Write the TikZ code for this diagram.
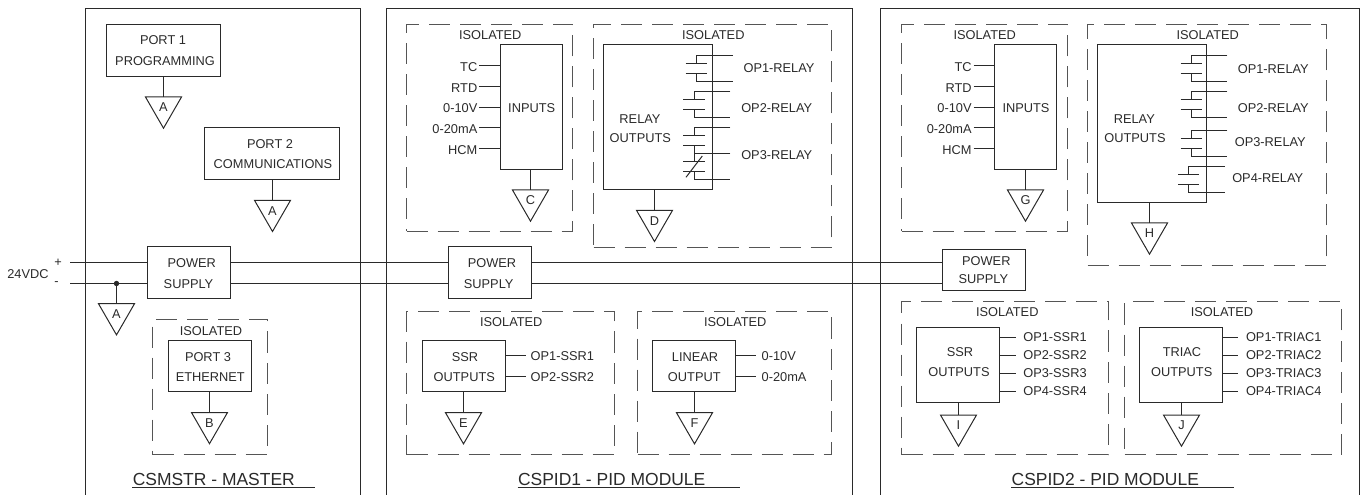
\documentclass[tikz,border=0pt]{standalone}
\usepackage{fontspec}
\setmainfont{Liberation Sans}
\usetikzlibrary{shapes.geometric}
\definecolor{ink}{HTML}{2A2A2A}
\tikzset{
  wire/.style={draw=ink,line width=0.75pt},
  boxst/.style={draw=ink,line width=0.8pt,inner sep=0pt,outer sep=0pt},
  dashst/.style={draw=ink!80,line width=0.8pt,inner sep=0pt,outer sep=0pt,dash pattern=on 15.75pt off 7.5pt},
  lbl/.style={inner sep=0pt,outer sep=0pt,text=ink,font=\fontsize{9.6pt}{11pt}\selectfont,anchor=center},
  lbll/.style={lbl,anchor=west},
  lblr/.style={lbl,anchor=east},
  ttl/.style={lbl,font=\fontsize{13.1pt}{15pt}\selectfont},
  gndst/.style={draw=ink,line width=0.75pt,regular polygon,regular polygon sides=3,shape border rotate=180,minimum size=31.2pt,inner sep=0pt,outer sep=0pt,text=ink,font=\fontsize{9.6pt}{11pt}\selectfont}
}
\newcommand{\mybox}[6][boxst]{%
  \pgfmathsetmacro{\xa}{floor(#3)+0.5}\pgfmathsetmacro{\ya}{floor(#4)+0.5}%
  \pgfmathsetmacro{\xb}{floor(#5)+0.5}\pgfmathsetmacro{\yb}{floor(#6)+0.5}%
  \pgfmathsetmacro{\bw}{(\xb-\xa)*0.75}\pgfmathsetmacro{\bh}{(\yb-\ya)*0.75}%
  \node[#1,minimum width=\bw pt,minimum height=\bh pt] (#2) at ({(\xa+\xb)/2},{(\ya+\yb)/2}) {};}
% name, source box, x, top y, letter
\newcommand{\gnd}[5]{%
  \node[gndst] (#1) at ({floor(#3)+0.5},{#4+10.4}) {#5};
  \draw[wire] (#2.south -| #1.center) -- (#1.center |- #1.north);}
% contact: prefix, top y, vertical x, wire end x, plate left, plate right
\newcommand{\contact}[6]{%
  \pgfmathsetmacro{\cy}{floor(#2)+0.5}\pgfmathsetmacro{\cx}{floor(#3)+0.5}%
  \coordinate (#1a) at (\cx,\cy);
  \coordinate (#1b) at (#5,\cy+8);
  \coordinate (#1c) at (#6,\cy+8);
  \coordinate (#1d) at (#5,\cy+18);
  \coordinate (#1e) at (#6,\cy+18);
  \coordinate (#1f) at (#4,\cy+26);
  \coordinate (#1g) at (#4,\cy);
  \draw[wire] (#1g) -- (#1a) -- (#1a |- #1b);
  \draw[wire] (#1b) -- (#1c);
  \draw[wire] (#1d) -- (#1e);
  \draw[wire] (#1a |- #1d) -- (#1a |- #1f) -- (#1f);}
\begin{document}
\begin{tikzpicture}[x=0.75pt,y=-0.75pt]
\useasboundingbox (0,0) rectangle (1360,495);
% panels
\coordinate (m1) at (85.5,495); \coordinate (m2) at (85.5,8.5); \coordinate (m3) at (360.5,8.5); \coordinate (m4) at (360.5,495);
\draw[boxst] (m1) -- (m2) -- (m3) -- (m4);
\coordinate (a1) at (386.5,495); \coordinate (a2) at (386.5,8.5); \coordinate (a3) at (852.5,8.5); \coordinate (a4) at (852.5,495);
\draw[boxst] (a1) -- (a2) -- (a3) -- (a4);
\coordinate (b1) at (880.5,495); \coordinate (b2) at (880.5,8.5); \coordinate (b3) at (1359.5,8.5); \coordinate (b4) at (1359.5,495);
\draw[boxst] (b1) -- (b2) -- (b3) -- (b4);

% ===== master
\mybox{port1}{106}{24}{220}{76}
\node[lbl] (port1a) at (163,40) {PORT 1};
\node[lbl] (port1b) at (165,61) {PROGRAMMING};
\gnd{gA1}{port1}{163}{97}{A}
\mybox{port2}{204.5}{127.5}{339.5}{179.5}
\node[lbl] (port2a) at (270,144) {PORT 2};
\node[lbl] (port2b) at (273,164.5) {COMMUNICATIONS};
\gnd{gA2}{port2}{272}{200.3}{A}

\mybox{ps1}{147.5}{246.7}{230.5}{298.3}
\node[lbl] (ps1a) at (191.7,263.5) {POWER};
\node[lbl] (ps1b) at (188.5,283.7) {SUPPLY};
\mybox{ps2}{448}{246.7}{531}{298.3}
\node[lbl] (ps2a) at (492,263.5) {POWER};
\node[lbl] (ps2b) at (488.7,283.7) {SUPPLY};
\mybox{ps3}{942.3}{249.3}{1025.7}{290.7}
\node[lbl] (ps3a) at (986.3,260.7) {POWER};
\node[lbl] (ps3b) at (983.3,278.7) {SUPPLY};

\coordinate (vp) at (70,262.5);
\coordinate (vm) at (70,283.5);
\draw[wire] (vp) -- (vp -| ps1.west);
\draw[wire] (vm) -- (vm -| ps1.west);
\draw[wire] (vp -| ps1.east) -- (vp -| ps2.west);
\draw[wire] (vm -| ps1.east) -- (vm -| ps2.west);
\draw[wire] (vp -| ps2.east) -- (vp -| ps3.west);
\draw[wire] (vm -| ps2.east) -- (vm -| ps3.west);
\node[lbl] (v24) at (28,273.7) {24VDC};
\node[lbl] (vplus) at (58,263) {+};
\node[lbl] (vminus) at (56.5,283.2) {-};
\coordinate (jn) at (116.5,283.5);
\fill[ink] (jn) circle (2.7);
\node[gndst] (gA3) at (116.5,314.1) {A};
\draw[wire] (jn) -- (gA3.center |- gA3.north);

\mybox[dashst]{iso1}{152.5}{319.7}{267}{454.3}
\node[lbl] (iso1t) at (211,330.7) {ISOLATED};
\mybox{port3}{168}{340.3}{251.5}{391.7}
\node[lbl] (port3a) at (208,356.7) {PORT 3};
\node[lbl] (port3b) at (210.3,377.3) {ETHERNET};
\gnd{gB}{port3}{209.7}{412.5}{B}
\node[ttl] (t1) at (213.8,479) {CSMSTR - MASTER};
\coordinate (u1a) at (132,487.5); \coordinate (u1b) at (315,487.5);
\draw[wire] (u1a) -- (u1b);

% ===== CSPID1
\mybox[dashst]{iso2}{406.7}{24}{572.3}{231}
\node[lbl] (iso2t) at (490.3,35.3) {ISOLATED};
\mybox{in1}{500}{44.7}{562}{169.3}
\node[lbl] (in1t) at (531.7,107.7) {INPUTS};
\foreach \n/\t/\yy/\ty in {a/TC/65.5/66.7,b/RTD/86.5/87.7,c/0-10V/107.5/107.7,d/0-20mA/127.5/129,e/HCM/148.5/149.7}{
  \node[lblr] (in1\n) at (477.3,\ty) {\t};
  \coordinate (in1p\n) at (479.3,\yy);
  \draw[wire] (in1p\n) -- (in1p\n -| in1.west);
}
\gnd{gC}{in1}{530.7}{190}{C}

\mybox[dashst]{iso3}{593}{24}{831.3}{247}
\node[lbl] (iso3t) at (713.3,35.3) {ISOLATED};
\mybox{rel1}{603.3}{44.7}{712}{189.7}
\node[lbl] (rel1a) at (640,118.7) {RELAY};
\node[lbl] (rel1b) at (640.3,138.3) {OUTPUTS};
\contact{ra}{55}{696.7}{733}{685.7}{707}
\contact{rb}{91.3}{694}{730.3}{683.3}{704.7}
\contact{rc}{127.5}{694}{730.3}{683.3}{704.7}
\contact{rd}{153.5}{694}{730.3}{683.3}{704.7}
\coordinate (sl1) at (686,177.3); \coordinate (sl2) at (702.3,156);
\draw[wire] (sl1) -- (sl2);
\node[lbl] (op1r) at (779,68.5) {OP1-RELAY};
\node[lbl] (op2r) at (776.7,107.7) {OP2-RELAY};
\node[lbl] (op3r) at (776.7,154.7) {OP3-RELAY};
\gnd{gD}{rel1}{654.7}{210.3}{D}

\mybox[dashst]{iso4}{406.7}{311.7}{614}{454.3}
\node[lbl] (iso4t) at (511.3,322.3) {ISOLATED};
\mybox{ssr1}{422}{340.3}{505}{391.7}
\node[lbl] (ssr1a) at (465,356.7) {SSR};
\node[lbl] (ssr1b) at (464.3,377.3) {OUTPUTS};
\foreach \n/\t/\yy in {a/OP1-SSR1/355.5,b/OP2-SSR2/376.5}{
  \coordinate (ssr1p\n) at (526,\yy);
  \draw[wire] (ssr1.east |- ssr1p\n) -- (ssr1p\n);
  \node[lbll] (ssr1l\n) at (530.7,\yy+1) {\t};
}
\gnd{gE}{ssr1}{463.7}{412.7}{E}

\mybox[dashst]{iso5}{637}{311.7}{831.3}{454.3}
\node[lbl] (iso5t) at (735.3,322.3) {ISOLATED};
\mybox{lin1}{652.3}{340.3}{735.3}{391.7}
\node[lbl] (lin1a) at (695,356.7) {LINEAR};
\node[lbl] (lin1b) at (694.3,377.3) {OUTPUT};
\foreach \n/\t/\yy in {a/0-10V/355.5,b/0-20mA/376.5}{
  \coordinate (lin1p\n) at (756.3,\yy);
  \draw[wire] (lin1.east |- lin1p\n) -- (lin1p\n);
  \node[lbll] (lin1l\n) at (761.7,\yy+1) {\t};
}
\gnd{gF}{lin1}{694}{412.7}{F}
\node[ttl] (t2) at (611.7,479) {CSPID1 - PID MODULE};
\coordinate (u2a) at (517.7,487.5); \coordinate (u2b) at (740,487.5);
\draw[wire] (u2a) -- (u2b);

% ===== CSPID2
\mybox[dashst]{iso6}{901}{24}{1067.3}{231}
\node[lbl] (iso6t) at (984.7,35.3) {ISOLATED};
\mybox{in2}{994.3}{44.7}{1056.3}{169.3}
\node[lbl] (in2t) at (1026,107.7) {INPUTS};
\foreach \n/\t/\yy/\ty in {a/TC/65.5/66.7,b/RTD/86.5/87.7,c/0-10V/107.5/107.7,d/0-20mA/127.5/129,e/HCM/148.5/149.7}{
  \node[lblr] (in2\n) at (971.6,\ty) {\t};
  \coordinate (in2p\n) at (973.6,\yy);
  \draw[wire] (in2p\n) -- (in2p\n -| in2.west);
}
\gnd{gG}{in2}{1025}{190}{G}

\mybox[dashst]{iso7}{1087.7}{24}{1326.3}{265.3}
\node[lbl] (iso7t) at (1207.7,35.3) {ISOLATED};
\mybox{rel2}{1097.7}{44.7}{1206.7}{202.3}
\node[lbl] (rel2a) at (1134.3,118.7) {RELAY};
\node[lbl] (rel2b) at (1135,138.3) {OUTPUTS};
\contact{sa}{55}{1191}{1227.3}{1180.7}{1202}
\contact{sb}{91.3}{1191}{1227.3}{1180.7}{1202}
\contact{sc}{130.3}{1191}{1227.3}{1180.7}{1202}
\contact{sd}{166.7}{1188.7}{1225}{1178}{1199.3}
\node[lbl] (op1s) at (1273.3,68.7) {OP1-RELAY};
\node[lbl] (op2s) at (1273.3,107.7) {OP2-RELAY};
\node[lbl] (op3s) at (1270.3,141.7) {OP3-RELAY};
\node[lbl] (op4s) at (1267.7,177.7) {OP4-RELAY};
\gnd{gH}{rel2}{1149.3}{223}{H}

\mybox[dashst]{iso8}{901}{301.3}{1108.7}{454}
\node[lbl] (iso8t) at (1007.3,312.3) {ISOLATED};
\mybox{ssr2}{916.7}{327.3}{999.7}{402.3}
\node[lbl] (ssr2a) at (960,351.7) {SSR};
\node[lbl] (ssr2b) at (959,371.7) {OUTPUTS};
\foreach \n/\t/\yy in {a/OP1-SSR1/337.5,b/OP2-SSR2/355.5,c/OP3-SSR3/373.5,d/OP4-SSR4/391.5}{
  \coordinate (ssr2p\n) at (1015.7,\yy);
  \draw[wire] (ssr2.east |- ssr2p\n) -- (ssr2p\n);
  \node[lbll] (ssr2l\n) at (1023.3,\yy) {\t};
}
\gnd{gI}{ssr2}{958.3}{415}{I}

\mybox[dashst]{iso9}{1124}{301.3}{1341.7}{454}
\node[lbl] (iso9t) at (1222,312.3) {ISOLATED};
\mybox{tri2}{1139.3}{327.3}{1222.3}{402.3}
\node[lbl] (tri2a) at (1182,351.7) {TRIAC};
\node[lbl] (tri2b) at (1181.7,371.7) {OUTPUTS};
\foreach \n/\t/\yy in {a/OP1-TRIAC1/337.5,b/OP2-TRIAC2/355.5,c/OP3-TRIAC3/373.5,d/OP4-TRIAC4/391.5}{
  \coordinate (tri2p\n) at (1238.3,\yy);
  \draw[wire] (tri2.east |- tri2p\n) -- (tri2p\n);
  \node[lbll] (tri2l\n) at (1246,\yy) {\t};
}
\gnd{gJ}{tri2}{1181}{415}{J}
\node[ttl] (t3) at (1105.3,479) {CSPID2 - PID MODULE};
\coordinate (u3a) at (1011.3,487.5); \coordinate (u3b) at (1233.7,487.5);
\draw[wire] (u3a) -- (u3b);
\end{tikzpicture}
\end{document}
